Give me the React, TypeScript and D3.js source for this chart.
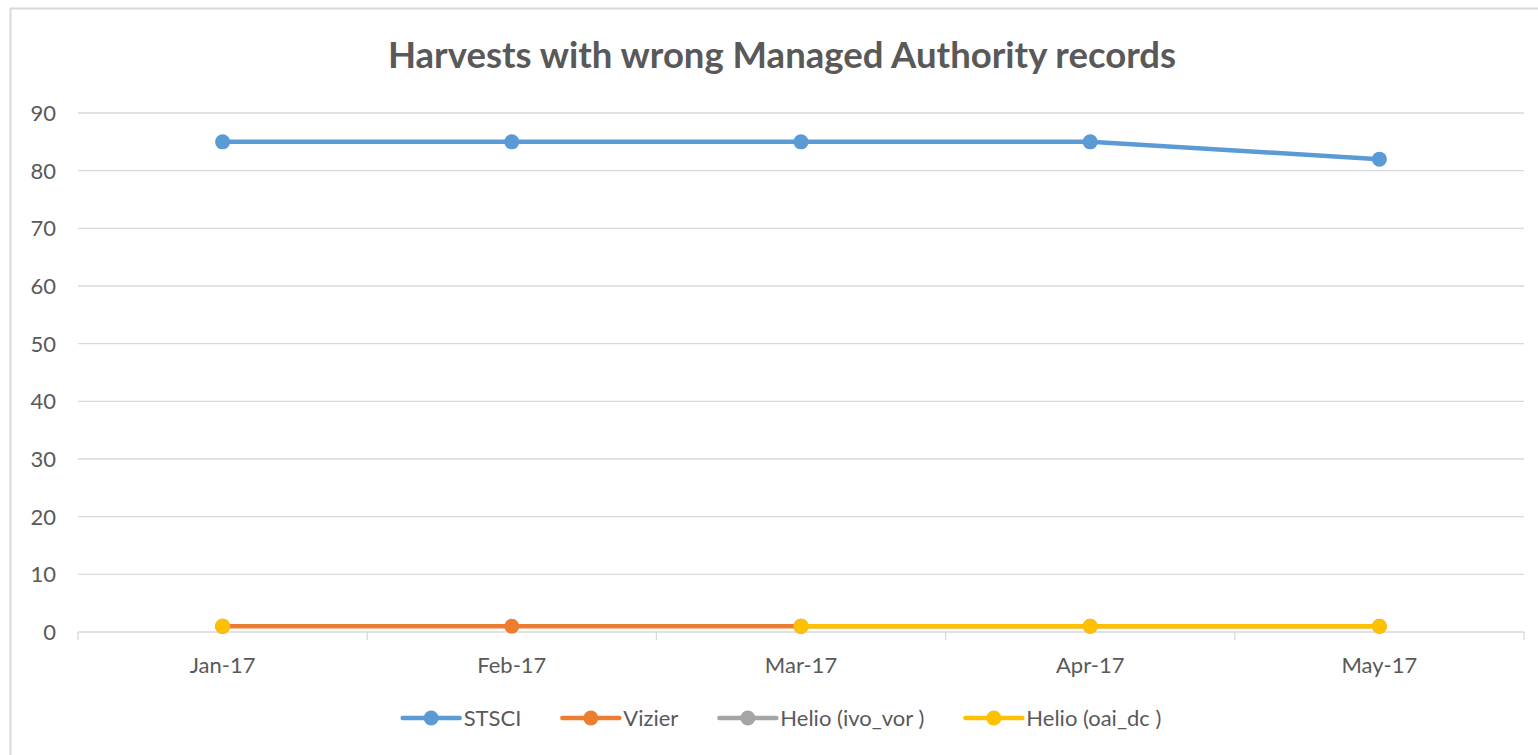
import { useEffect, useRef } from 'react';
import * as d3 from 'd3';

const months = ['Jan-17', 'Feb-17', 'Mar-17', 'Apr-17', 'May-17'];
const seriesNames = ['STSCI', 'Vizier', 'Helio (ivo_vor )', 'Helio (oai_dc )'];
const stsci = [85, 85, 85, 85, 82];
const vizier: (number | null)[] = [1, 1, 1, null, null];
const helioIvo: (number | null)[] = [1, null, 1, 1, 1];
const helioOai: (number | null)[] = [1, null, 1, 1, 1];
const yTicks = [0, 10, 20, 30, 40, 50, 60, 70, 80, 90];

const COLORS = ['#5B9BD5', '#ED7D31', '#A5A5A5', '#FFC000'];
const TEXT = '#595959';
const GRID = '#D9D9D9';
const FONT = 'Lato, "Open Sans", sans-serif';

export default function App() {
  const svgRef = useRef<SVGSVGElement>(null);

  useEffect(() => {
    if (!svgRef.current) return;
    const W = 1538;
    const H = 755;
    const margin = { top: 113, right: 14, bottom: 123, left: 78 };
    const width = W - margin.left - margin.right;
    const height = H - margin.top - margin.bottom;

    const svg = d3.select(svgRef.current);
    svg.selectAll('*').remove();

    // chart frame
    svg.append('rect')
      .attr('x', 10.5)
      .attr('y', 8.5)
      .attr('width', 1560)
      .attr('height', 800)
      .attr('fill', 'white')
      .attr('stroke', GRID)
      .attr('stroke-width', 2);

    const centerX = 782;

    svg.append('text')
      .attr('x', centerX)
      .attr('y', 68)
      .attr('text-anchor', 'middle')
      .attr('font-family', FONT)
      .attr('font-size', '36.5px')
      .attr('font-weight', 'bold')
      .attr('fill', TEXT)
      .text('Harvests with wrong Managed Authority records');

    const g = svg.append('g')
      .attr('transform', `translate(${margin.left},${margin.top})`);

    const x = d3.scaleBand().domain(months).range([0, width]);
    const y = d3.scaleLinear().domain([0, 90]).range([height, 0]);

    // gridlines
    g.append('g')
      .selectAll('line')
      .data(yTicks)
      .enter()
      .append('line')
      .attr('x1', 0)
      .attr('x2', width)
      .attr('y1', d => y(d))
      .attr('y2', d => y(d))
      .attr('stroke', GRID)
      .attr('stroke-width', 1.3);

    // y labels
    g.append('g')
      .selectAll('text')
      .data(yTicks)
      .enter()
      .append('text')
      .attr('x', -22)
      .attr('y', d => y(d))
      .attr('dy', '0.36em')
      .attr('text-anchor', 'end')
      .attr('font-family', FONT)
      .attr('font-size', '22px')
      .attr('fill', TEXT)
      .text(d => d);

    // x ticks at category boundaries
    const bounds = months.map(m => x(m)!).concat([width]);
    g.append('g')
      .selectAll('line')
      .data(bounds)
      .enter()
      .append('line')
      .attr('x1', d => d)
      .attr('x2', d => d)
      .attr('y1', height)
      .attr('y2', height + 8)
      .attr('stroke', GRID)
      .attr('stroke-width', 1.3);

    g.append('g')
      .selectAll('text')
      .data(months)
      .enter()
      .append('text')
      .attr('x', d => x(d)! + x.bandwidth() / 2)
      .attr('y', height + 41)
      .attr('text-anchor', 'middle')
      .attr('font-family', FONT)
      .attr('font-size', '22px')
      .attr('fill', TEXT)
      .text(d => d);

    const allSeries = [stsci, vizier, helioIvo, helioOai];
    const cx = (i: number) => x(months[i])! + x.bandwidth() / 2;

    allSeries.forEach((vals, si) => {
      const pts = vals.map((v, i) => ({ i, v }));
      const line = d3.line<{ i: number; v: number | null }>()
        .defined(d => d.v !== null)
        .x(d => cx(d.i))
        .y(d => y(d.v as number));
      g.append('path')
        .datum(pts)
        .attr('d', line)
        .attr('fill', 'none')
        .attr('stroke', COLORS[si])
        .attr('stroke-width', 4.5)
        .attr('stroke-linejoin', 'round');
      g.append('g')
        .selectAll('circle')
        .data(pts.filter(d => d.v !== null))
        .enter()
        .append('circle')
        .attr('cx', d => cx(d.i))
        .attr('cy', d => y(d.v as number))
        .attr('r', 7.5)
        .attr('fill', COLORS[si]);
    });

    // legend
    const legend = svg.append('g').attr('transform', `translate(0, 718)`);
    const items = legend.selectAll('g.item')
      .data(seriesNames)
      .enter()
      .append('g')
      .attr('class', 'item');
    items.append('line')
      .attr('x1', 0)
      .attr('x2', 57)
      .attr('y1', 0)
      .attr('y2', 0)
      .attr('stroke', (d, i) => COLORS[i])
      .attr('stroke-width', 4.5)
      .attr('stroke-linecap', 'round');
    items.append('circle')
      .attr('cx', 28.5)
      .attr('cy', 0)
      .attr('r', 7.5)
      .attr('fill', (d, i) => COLORS[i]);
    items.append('text')
      .attr('x', 61)
      .attr('y', 0)
      .attr('dy', '0.36em')
      .attr('font-family', FONT)
      .attr('font-size', '22px')
      .attr('fill', TEXT)
      .text(d => d);

    const gap = 41;
    let offset = 0;
    const offsets: number[] = [];
    items.each(function () {
      const t = (this as SVGGElement).querySelector('text') as SVGTextElement;
      offsets.push(offset);
      offset += 61 + t.getComputedTextLength() + gap;
    });
    const total = offset - gap;
    const start = centerX - total / 2;
    items.attr('transform', (d, i) => `translate(${start + offsets[i]},0)`);
  }, []);

  return (
    <div style={{ position: 'fixed', left: 0, top: 0, width: 1538, height: 755, background: 'white' }}>
      <svg ref={svgRef} width={1538} height={755} style={{ display: 'block' }} />
    </div>
  );
}
